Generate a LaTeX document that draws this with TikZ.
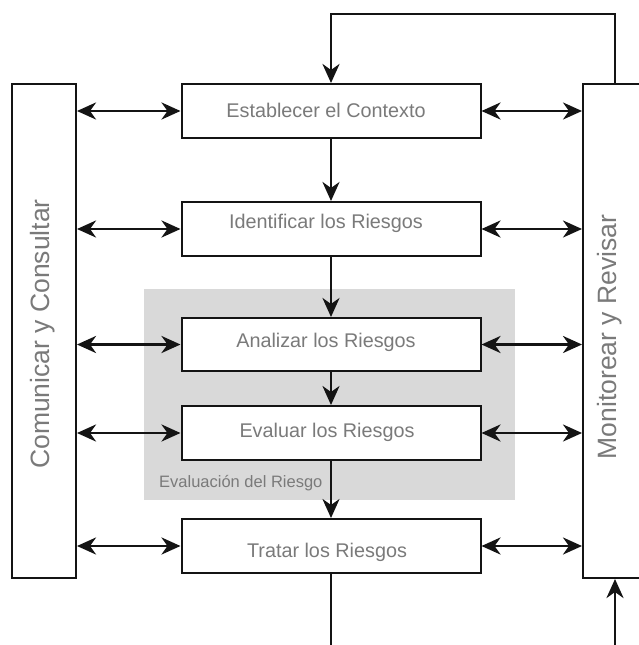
\documentclass[tikz,border=0pt]{standalone}
\usepackage{fontspec}
\setmainfont{Liberation Sans}
\usetikzlibrary{arrows.meta}
\definecolor{txtgray}{RGB}{122,122,122}
\definecolor{zonegray}{RGB}{217,217,217}
\definecolor{ink}{RGB}{20,20,20}

\begin{document}
\begin{tikzpicture}[x=1pt,y=-1pt,
  stepbox/.style={draw=ink, line width=2pt, fill=white, minimum width=299pt, minimum height=54pt, inner sep=0pt},
  sidebox/.style={draw=ink, line width=2pt, fill=white, minimum width=64pt, minimum height=494pt, inner sep=0pt},
  steptext/.style={anchor=base, text=txtgray, font=\fontsize{19.8}{23}\selectfont, inner sep=0pt},
  sidetext/.style={anchor=base, rotate=90, text=txtgray, font=\fontsize{26.5}{30}\selectfont, inner sep=0pt},
  zonetext/.style={anchor=base west, text=txtgray, font=\fontsize{16.5}{19}\selectfont, inner sep=0pt},
  flow/.style={draw=ink, line width=2.9pt, -{Stealth[length=19pt,width=17pt,inset=6pt]}},
  link/.style={draw=ink, line width=2.9pt, {Stealth[length=19pt,width=17pt,inset=6pt]}-{Stealth[length=19pt,width=17pt,inset=6pt]}},
]
\clip (0,0) rectangle (639,645);
\fill[white] (0,0) rectangle (639,645);

% shaded group for the assessment stage
\node[fill=zonegray, minimum width=371pt, minimum height=211pt, inner sep=0pt] (zone) at (329.5,394.5) {};
\node[zonetext] (zonelbl) at (159,487) {Evaluación del Riesgo};

% side columns
\node[sidebox] (com) at (44,331) {};
\node[sidebox] (mon) at (615,331) {};
\node[sidetext] (comt) at (49,334) {Comunicar y Consultar};
\node[sidetext] (mont) at (616,337) {Monitorear y Revisar};

% process steps
\node[stepbox] (est) at (331,111) {};
\node[stepbox] (ide) at (331,229) {};
\node[stepbox, minimum height=53pt] (ana) at (331,344.5) {};
\node[stepbox] (eva) at (331,433) {};
\node[stepbox] (tra) at (331,546) {};

\node[steptext] (estt) at (326,117) {Establecer el Contexto};
\node[steptext] (idet) at (326,228) {Identificar los Riesgos};
\node[steptext] (anat) at (326,347) {Analizar los Riesgos};
\node[steptext] (evat) at (327,437) {Evaluar los Riesgos};
\node[steptext] (trat) at (327,557) {Tratar los Riesgos};

% main flow
\draw[flow] (est.south) -- (ide.north);
\draw[flow] (ide.south) -- (ana.north);
\draw[flow] (ana.south) -- (eva.north);
\draw[flow] (eva.south) -- (tra.north);

% feedback loops
\coordinate (loopT) at (0,14);
\coordinate (loopB) at (0,690);
\draw[flow] (mon.north) -- (mon.north |- loopT) -- (est.north |- loopT) -- (est.north);
\draw[flow] (tra.south) -- (tra.south |- loopB) -- (mon.south |- loopB) -- (mon.south);

% two-way links to the side columns
\foreach \b in {est,ide,ana,eva,tra} {
  \draw[link] (\b.west -| com.east) -- (\b.west);
  \draw[link] (\b.east) -- (\b.east -| mon.west);
}
\end{tikzpicture}
\end{document}
